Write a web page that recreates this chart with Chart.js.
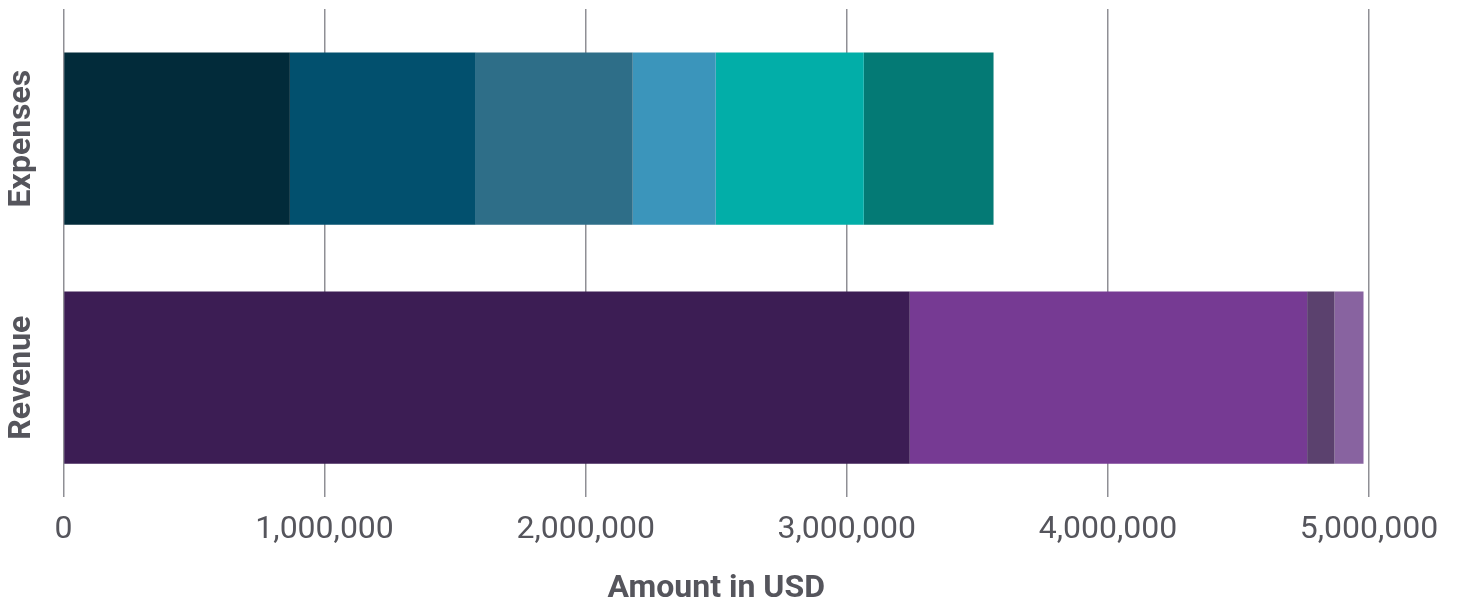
<!DOCTYPE html>
<html>
<head>
<meta charset="utf-8">
<script src="https://cdn.jsdelivr.net/npm/chart.js@4/dist/chart.umd.min.js"></script>
<style>
  body { margin: 0; background: #fff; }
  #wrap { width: 1457px; height: 603px; }
</style>
</head>
<body>
<div id="wrap"><canvas id="budgetChart"></canvas></div>
<script>
const categories = ['Expenses', 'Revenue'];

// expense segments (left to right), USD
const expenseNames = ['Expense 1', 'Expense 2', 'Expense 3', 'Expense 4', 'Expense 5', 'Expense 6'];
const expenseValues = [867000, 712000, 601000, 318000, 567000, 497000];
const expenseColors = ['#022b3a', '#02506e', '#2e6e88', '#3b95bb', '#02aea8', '#047a75'];

// revenue segments (left to right), USD
const revenueNames = ['Revenue 1', 'Revenue 2', 'Revenue 3', 'Revenue 4'];
const revenueValues = [3241000, 1522000, 105000, 111000];
const revenueColors = ['#3c1d54', '#763a93', '#5b416e', '#8863a0'];

const axisMax = 5000000;
const axisStep = 1000000;

const datasets = [];
expenseValues.forEach((v, i) => {
    datasets.push({
        label: expenseNames[i],
        data: [v, null],
        backgroundColor: expenseColors[i]
    });
});
revenueValues.forEach((v, i) => {
    datasets.push({
        label: revenueNames[i],
        data: [null, v],
        backgroundColor: revenueColors[i]
    });
});

const gridColor = '#8f8f95';
const textColor = '#55555c';

const ctx = document.getElementById('budgetChart').getContext('2d');
const budgetChart = new Chart(ctx, {
    type: 'bar',
    data: {
        labels: categories,
        datasets: datasets
    },
    options: {
        indexAxis: 'y',
        responsive: true,
        maintainAspectRatio: false,
        animation: false,
        categoryPercentage: 0.8,
        barPercentage: 0.9,
        layout: {
            padding: { top: 9, right: 88, bottom: 0, left: 0 }
        },
        plugins: {
            legend: { display: false },
            tooltip: { enabled: false }
        },
        scales: {
            x: {
                stacked: true,
                min: 0,
                max: axisMax,
                position: 'bottom',
                border: { display: false },
                grid: {
                    color: gridColor,
                    lineWidth: 1.5,
                    drawTicks: false
                },
                ticks: {
                    stepSize: axisStep,
                    padding: 14,
                    color: textColor,
                    font: { family: 'Roboto', size: 32 },
                    callback: (v) => Number(v).toLocaleString('en-US')
                },
                title: {
                    display: true,
                    text: 'Amount in USD',
                    color: textColor,
                    font: { family: 'Roboto', size: 32, weight: 'bold' },
                    padding: { top: 6, bottom: -5 }
                }
            },
            xTop: {
                type: 'linear',
                position: 'top',
                min: 0,
                max: axisMax,
                border: { display: false },
                grid: {
                    color: gridColor,
                    lineWidth: 1.5,
                    drawOnChartArea: false,
                    drawTicks: true,
                    tickLength: 10
                },
                ticks: { display: false, stepSize: axisStep }
            },
            y: {
                stacked: true,
                border: { display: false },
                grid: { display: false, drawTicks: false },
                ticks: {
                    minRotation: 90,
                    maxRotation: 90,
                    crossAlign: 'center',
                    padding: -27,
                    color: textColor,
                    font: { family: 'Roboto', size: 32, weight: 'bold' }
                },
                afterFit: (scale) => { scale.width = 63.5; }
            }
        }
    }
});
</script>
</body>
</html>
